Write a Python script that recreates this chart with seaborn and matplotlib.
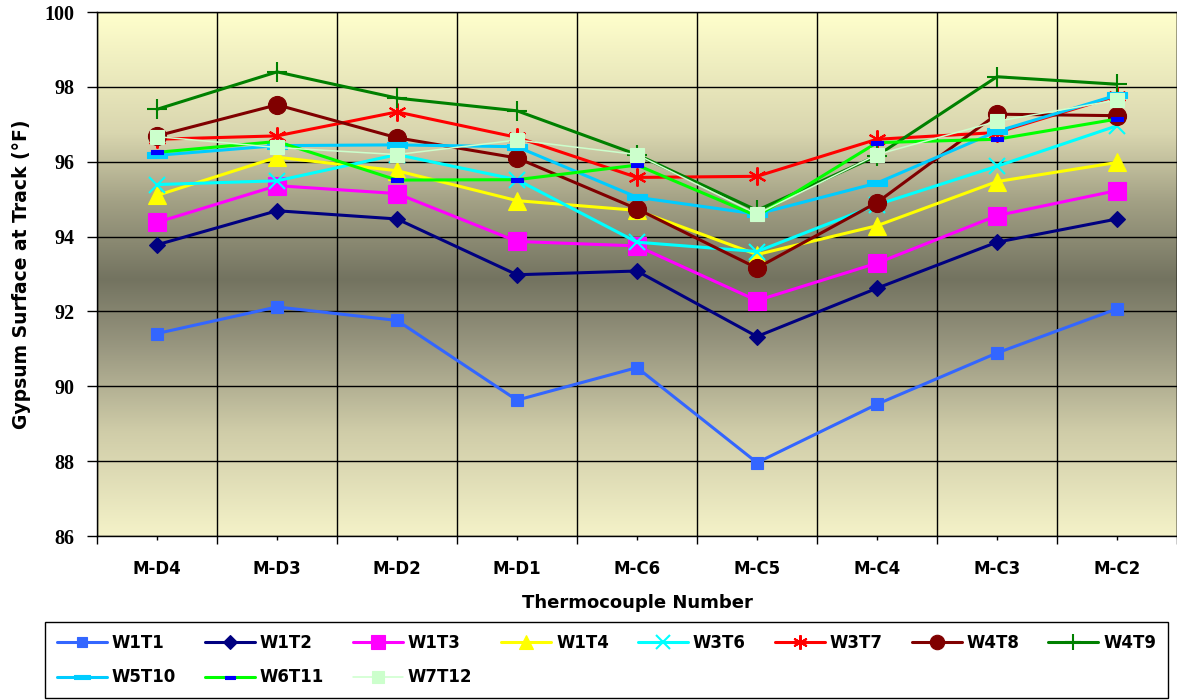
import numpy as np
import pandas as pd
import matplotlib
matplotlib.use("Agg")
import matplotlib.pyplot as plt
from matplotlib.colors import LinearSegmentedColormap
from matplotlib.ticker import MultipleLocator
import seaborn as sns

# thermocouple positions along the track
cats = ["M-D4", "M-D3", "M-D2", "M-D1", "M-C6", "M-C5", "M-C4", "M-C3", "M-C2"]

# surface temperatures (F)
W1T1 = [91.41, 92.12, 91.76, 89.63, 90.50, 87.96, 89.52, 90.89, 92.07]
W1T2 = [93.78, 94.69, 94.47, 92.98, 93.08, 91.33, 92.62, 93.85, 94.47]
W1T3 = [94.38, 95.36, 95.15, 93.87, 93.75, 92.29, 93.29, 94.56, 95.23]
W1T4 = [95.10, 96.12, 95.76, 94.96, 94.70, 93.52, 94.29, 95.47, 95.98]
W3T6 = [95.39, 95.49, 96.19, 95.52, 93.85, 93.60, 94.85, 95.88, 96.96]
W3T7 = [96.60, 96.69, 97.33, 96.65, 95.58, 95.61, 96.60, 96.78, 97.76]
W4T8 = [96.69, 97.52, 96.64, 96.10, 94.74, 93.16, 94.91, 97.27, 97.23]
W4T9 = [97.40, 98.40, 97.70, 97.36, 96.19, 94.70, 96.16, 98.27, 98.07]
W5T10 = [96.17, 96.43, 96.45, 96.40, 95.05, 94.60, 95.43, 96.81, 97.78]
W6T11 = [96.25, 96.54, 95.51, 95.52, 95.91, 94.55, 96.51, 96.60, 97.14]
W7T12 = [96.67, 96.38, 96.19, 96.58, 96.19, 94.60, 96.19, 97.08, 97.65]

series = {"W1T1": W1T1, "W1T2": W1T2, "W1T3": W1T3, "W1T4": W1T4,
          "W3T6": W3T6, "W3T7": W3T7, "W4T8": W4T8, "W4T9": W4T9,
          "W5T10": W5T10, "W6T11": W6T11, "W7T12": W7T12}

rect = [(-1, -0.3), (1, -0.3), (1, 0.3), (-1, 0.3), (-1, -0.3)]
asterisk = (6, 2, 0)

# name: (line color, marker, marker size, marker face, line width)
styles = {
    "W1T1": ("#3366FF", "s", 9, "#3366FF", 2.2),
    "W1T2": ("#000080", "D", 8.5, "#000080", 2.2),
    "W1T3": ("#FF00FF", "s", 13, "#FF00FF", 2.2),
    "W1T4": ("#FFFF00", "^", 13, "#FFFF00", 2.2),
    "W3T6": ("#00FFFF", "x", 12, "#00FFFF", 2.2),
    "W3T7": ("#FF0000", asterisk, 13, "#FF0000", 2.2),
    "W4T8": ("#800000", "o", 13, "#800000", 2.2),
    "W4T9": ("#008000", "+", 14, "#008000", 2.2),
    "W5T10": ("#00CCFF", rect, 14, "#00CCFF", 2.2),
    "W6T11": ("#00FF00", rect, 9, "#0000FF", 2.2),
    "W7T12": ("#CCFFCC", "s", 10, "#CCFFCC", 1.1),
}

sns.set_style("white")
plt.rcParams["font.family"] = ["DejaVu Sans"]
plt.rcParams["font.weight"] = "bold"
plt.rcParams["text.color"] = "black"
plt.rcParams["axes.labelcolor"] = "black"
plt.rcParams["xtick.color"] = "black"
plt.rcParams["ytick.color"] = "black"

fig = plt.figure(figsize=(11.77, 7.0), dpi=100)
ax = fig.add_axes([97 / 1177, 164 / 700, 1 - 97 / 1177, 524 / 700])

# background gradient (light yellow -> olive grey -> light yellow)
bg = LinearSegmentedColormap.from_list("bg", [
    (0.0, "#FFFFCC"), (0.23, "#D9D6AF"), (0.36, "#A3A185"), (0.51, "#737360"),
    (0.64, "#999780"), (0.80, "#CFCCA8"), (1.0, "#F4F2C8")])
grad = np.linspace(0, 1, 256).reshape(-1, 1)
ax.imshow(grad, cmap=bg, aspect="auto", extent=(0, 1, 0, 1),
          transform=ax.transAxes, zorder=0)

for name, vals in series.items():
    col, mk, ms, mfc, lw = styles[name]
    mew = 1.5 if mk in ("x", "+", asterisk) else 0.8
    sns.lineplot(x=cats, y=vals, ax=ax, color=col, marker=mk, markersize=ms,
                 markerfacecolor=mfc, markeredgecolor=mfc, markeredgewidth=mew,
                 linewidth=lw, label=name, errorbar=None, sort=False)

ax.set_xlim(-0.5, 8.5)
ax.set_ylim(86, 100)
ax.yaxis.set_major_locator(MultipleLocator(2))
ax.set_xticks(range(len(cats)))
ax.set_xticklabels(cats)
ax.set_xticks(np.arange(-0.5, 9, 1), minor=True)
ax.grid(False)
ax.grid(True, axis="y", which="major", color="black", linewidth=1, zorder=1)
ax.grid(True, axis="x", which="minor", color="black", linewidth=1, zorder=1)
ax.tick_params(axis="x", which="major", length=3, width=1, color="black",
               direction="out", bottom=True, pad=14, labelsize=12)
ax.tick_params(axis="x", which="minor", length=6, width=1, color="black",
               direction="out", bottom=True)
ax.tick_params(axis="y", length=7, width=1, color="black", direction="out",
               left=True, pad=9)
for lab in ax.get_yticklabels():
    lab.set_fontfamily("Liberation Serif")
    lab.set_fontsize(14.5)
    lab.set_fontweight("bold")
for s in ax.spines.values():
    s.set_color("black")
    s.set_linewidth(1)

ax.set_xlabel("Thermocouple Number", fontsize=13, fontweight="bold", labelpad=12)
ax.set_ylabel("Gypsum Surface at Track (°F)", fontsize=13.5, fontweight="bold",
              labelpad=10)

# legend filled column by column, so interleave to get row order
handles, labels = ax.get_legend_handles_labels()
order = [0, 8, 1, 9, 2, 10, 3, 4, 5, 6, 7]
ax.legend([handles[i] for i in order], [labels[i] for i in order],
          loc="lower left", bbox_to_anchor=(45 / 1177, 2 / 700, 1123 / 1177, 73 / 700),
          bbox_transform=fig.transFigure, mode="expand", ncol=8,
          fancybox=False, framealpha=1, edgecolor="black", markerscale=0.8,
          handlelength=3.0, handletextpad=0.3, borderaxespad=0,
          labelspacing=1.0, borderpad=0.7,
          prop={"weight": "bold", "size": 12})

fig.savefig("out.png", dpi=100)
